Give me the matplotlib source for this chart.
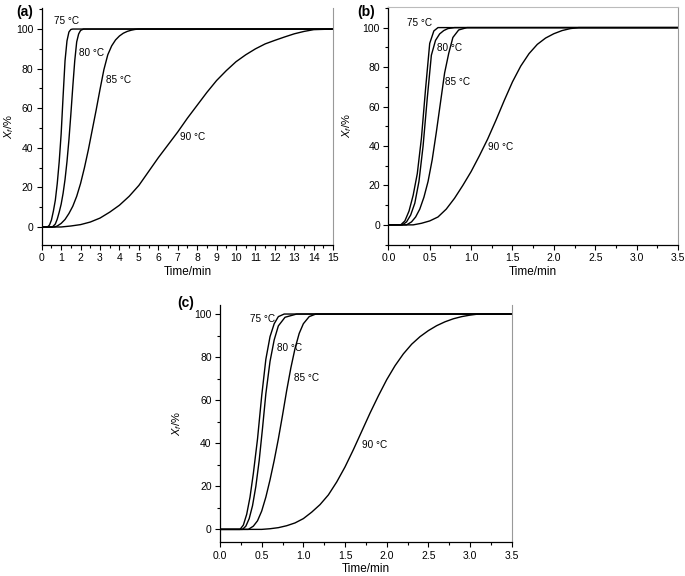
import numpy as np
import matplotlib
matplotlib.use('Agg')
import matplotlib.pyplot as plt
from matplotlib.ticker import MultipleLocator, FormatStrFormatter

plt.rcParams['font.family'] = ['Liberation Sans', 'DejaVu Sans']
plt.rcParams['mathtext.fontset'] = 'custom'
plt.rcParams['mathtext.rm'] = 'Liberation Sans'
plt.rcParams['mathtext.it'] = 'Liberation Sans:italic'

# ---- panel (a) ----
a_t75 = [0, 0.3, 0.4, 0.5, 0.6, 0.7, 0.8, 0.9, 1.0, 1.1, 1.2, 1.3, 1.4, 1.5, 1.6, 15]
a_x75 = [0, 0, 1, 3.5, 8, 13.5, 22, 33, 47, 66, 84, 94, 98.5, 99.8, 100, 100]
a_t80 = [0, 0.55, 0.7, 0.8, 0.9, 1.0, 1.1, 1.2, 1.3, 1.4, 1.5, 1.6, 1.7, 1.8, 1.9, 2.0, 2.15, 15]
a_x80 = [0, 0, 1.5, 4, 7.5, 11.5, 17, 24, 33, 44, 57, 71, 84, 93.5, 97.5, 99.3, 100, 100]
a_t85 = [0, 0.65, 0.8, 1.0, 1.2, 1.4, 1.6, 1.8, 2.0, 2.2, 2.4, 2.6, 2.8, 3.0, 3.2, 3.4,
         3.6, 3.8, 4.0, 4.2, 4.4, 4.6, 4.8, 5.0, 15]
a_x85 = [0, 0, 0.5, 1.8, 3.8, 6.8, 10.5, 15.5, 22, 30, 39, 49, 59, 69.5, 79.5, 87,
         91.5, 94.5, 96.5, 97.9, 98.8, 99.4, 99.8, 100, 100]
a_t90 = [0, 1.0, 1.5, 2.0, 2.5, 3.0, 3.5, 4.0, 4.5, 5.0, 5.5, 6.0, 6.5, 7.0, 7.5,
         8.0, 8.5, 9.0, 9.5, 10.0, 10.5, 11.0, 11.5, 12.0, 12.5, 13.0, 13.5, 14.0, 15]
a_x90 = [0, 0, 0.5, 1.2, 2.5, 4.5, 7.5, 11, 15.5, 21, 28, 35, 41.5, 48, 55,
         61.5, 68, 74, 79, 83.5, 87, 90, 92.5, 94.3, 96, 97.6, 98.8, 99.7, 100]

# ---- panel (b) ----
b_t75 = [0, 0.15, 0.2, 0.25, 0.3, 0.35, 0.4, 0.45, 0.5, 0.55, 0.6, 3.5]
b_x75 = [0, 0, 2, 7, 15, 26, 44, 69, 92, 98.3, 100, 100]
b_t80 = [0, 0.17, 0.22, 0.27, 0.32, 0.37, 0.42, 0.47, 0.52, 0.57, 0.62, 0.67, 0.72, 0.8, 3.5]
b_x80 = [0, 0, 1.5, 5, 11, 22, 40, 64, 86, 93.5, 96.8, 98.5, 99.5, 100, 100]
b_t85 = [0, 0.22, 0.28, 0.33, 0.38, 0.43, 0.48, 0.53, 0.58, 0.63, 0.68, 0.73, 0.78,
         0.85, 0.95, 3.5]
b_x85 = [0, 0, 1.5, 4, 8, 14, 22, 33, 47, 62, 77, 87, 95, 98.8, 100, 100]
b_t90 = [0, 0.3, 0.4, 0.5, 0.6, 0.7, 0.8, 0.9, 1.0, 1.1, 1.2, 1.3, 1.4, 1.5, 1.6,
         1.7, 1.8, 1.9, 2.0, 2.1, 2.2, 2.3, 3.5]
b_x90 = [0, 0, 0.8, 2, 4, 8, 13.5, 20, 27, 35, 43.5, 53, 63, 72.5, 80.5,
         86.8, 91.5, 94.7, 96.9, 98.5, 99.5, 100, 100]

# ---- panel (c) ----
c_t75 = [0, 0.24, 0.28, 0.32, 0.36, 0.4, 0.45, 0.5, 0.55, 0.6, 0.65, 0.7, 0.77, 3.5]
c_x75 = [0, 0, 2, 7, 15, 26, 42, 62, 79, 89.5, 95.5, 98.8, 100, 100]
c_t80 = [0, 0.27, 0.31, 0.35, 0.39, 0.43, 0.47, 0.51, 0.55, 0.6, 0.65, 0.7, 0.78, 0.92, 3.5]
c_x80 = [0, 0, 1.5, 5, 11, 20, 32, 47, 63, 78, 88, 94.5, 98.5, 100, 100]
c_t85 = [0, 0.34, 0.4, 0.45, 0.5, 0.55, 0.6, 0.65, 0.7, 0.75, 0.8, 0.85, 0.9, 0.95,
         1.0, 1.07, 1.15, 3.5]
c_x85 = [0, 0, 1.5, 4, 8.5, 15, 23, 32, 42, 53, 64.5, 75, 84, 91, 95.5, 98.8, 100, 100]
c_t90 = [0, 0.5, 0.6, 0.7, 0.8, 0.9, 1.0, 1.1, 1.2, 1.3, 1.4, 1.5, 1.6, 1.7, 1.8,
         1.9, 2.0, 2.1, 2.2, 2.3, 2.4, 2.5, 2.6, 2.7, 2.8, 2.9, 3.0, 3.1, 3.5]
c_x90 = [0, 0, 0.3, 0.8, 1.7, 3, 5, 8, 11.5, 16, 22, 29, 37, 45.5, 54,
         62, 69.5, 76, 81.5, 86, 89.5, 92.3, 94.6, 96.4, 97.8, 98.8, 99.5, 100, 100]

labels = ['75 °C', '80 °C', '85 °C', '90 °C']

panels = [
    dict(name='(a)', rect=[0.0609, 0.575, 0.4255, 0.411], xlim=(0, 15), ylim=(-9, 110.6),
         xmaj=1, xmin=0.5, xfmt='%d', top=False, ylab_x=-0.088,
         curves=[(a_t75, a_x75), (a_t80, a_x80), (a_t85, a_x85), (a_t90, a_x90)],
         lab_pos=[(0.65, 104), (1.94, 88), (3.31, 74.2), (7.12, 45.3)],
         tag_xy=(16, 12)),
    dict(name='(b)', rect=[0.5669, 0.575, 0.4229, 0.4134], xlim=(0, 3.5), ylim=(-10.1, 110.6),
         xmaj=0.5, xmin=0.25, xfmt='%.1f', top=True, ylab_x=-0.12,
         curves=[(b_t75, b_x75), (b_t80, b_x80), (b_t85, b_x85), (b_t90, b_x90)],
         lab_pos=[(0.222, 102.2), (0.585, 89.5), (0.685, 72.6), (1.208, 39.7)],
         tag_xy=(357, 12)),
    dict(name='(c)', rect=[0.3212, 0.0585, 0.4258, 0.412], xlim=(0, 3.5), ylim=(-6, 104.2),
         xmaj=0.5, xmin=0.25, xfmt='%.1f', top=False, ylab_x=-0.125,
         curves=[(c_t75, c_x75), (c_t80, c_x80), (c_t85, c_x85), (c_t90, c_x90)],
         lab_pos=[(0.36, 97.5), (0.688, 84), (0.888, 70.4), (1.70, 39.2)],
         tag_xy=(177, 303)),
]

fig = plt.figure(figsize=(6.85, 5.76), dpi=100)

for p in panels:
    ax = fig.add_axes(p['rect'])
    for t, x in p['curves']:
        ax.plot(t, x, color='black', lw=1.0, solid_joinstyle='round')
    for lab, (tx, ty) in zip(labels, p['lab_pos']):
        ax.text(tx, ty, lab, fontsize=7.2, ha='left', va='center')
    ax.set_xlim(*p['xlim'])
    ax.set_ylim(*p['ylim'])
    ax.xaxis.set_major_locator(MultipleLocator(p['xmaj']))
    ax.xaxis.set_minor_locator(MultipleLocator(p['xmin']))
    ax.xaxis.set_major_formatter(FormatStrFormatter(p['xfmt']))
    ax.yaxis.set_major_locator(MultipleLocator(20))
    ax.yaxis.set_minor_locator(MultipleLocator(10))
    ax.tick_params(which='both', direction='out', labelsize=7.5, width=0.8,
                   top=False, right=False)
    ax.tick_params(which='major', length=3.5, pad=2.5)
    ax.tick_params(which='minor', length=2)
    for s in ['left', 'bottom']:
        ax.spines[s].set_linewidth(0.9)
    ax.spines['right'].set_color('#999999')
    ax.spines['right'].set_linewidth(0.8)
    if p['top']:
        ax.spines['top'].set_color('#bbbbbb')
        ax.spines['top'].set_linewidth(0.8)
    else:
        ax.spines['top'].set_visible(False)
    ax.set_xlabel('Time/min', fontsize=8.5, labelpad=2)
    ax.set_ylabel('$X_f$/%', fontsize=8)
    ax.yaxis.set_label_coords(p['ylab_x'], 0.5)
    fig.text(p['tag_xy'][0] / 685, 1 - p['tag_xy'][1] / 576, p['name'],
             fontsize=10, fontweight='bold', ha='left', va='center')

fig.savefig('out.png', dpi=100)
